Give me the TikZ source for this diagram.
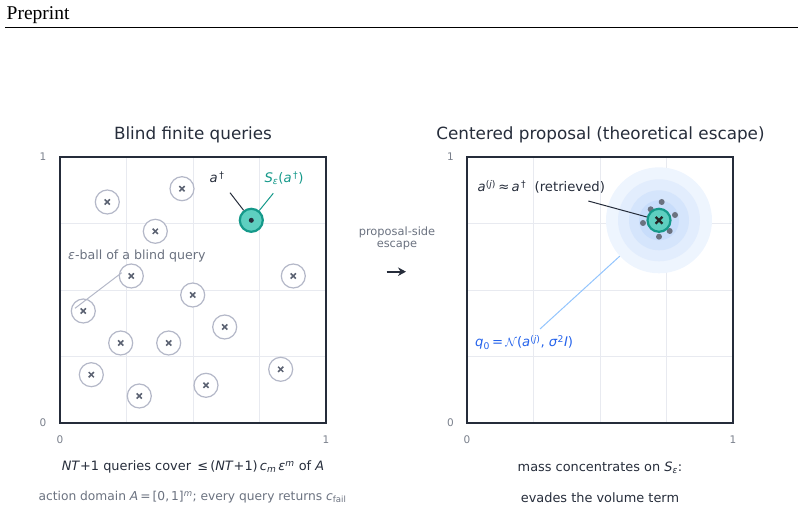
\documentclass[tikz,border=0pt]{standalone}
\usepackage{fontspec}
\setmainfont{DejaVu Sans}
\newfontfamily\timesf{Liberation Serif}
\usetikzlibrary{arrows.meta}
\definecolor{framec}{HTML}{252C3A}
\definecolor{gridc}{HTML}{E8EAF0}
\definecolor{ringc}{HTML}{B4B8C8}
\definecolor{xc}{HTML}{5B6272}
\definecolor{tealf}{HTML}{5ECFC0}
\definecolor{teald}{HTML}{15998A}
\definecolor{darkc}{HTML}{262D3B}
\definecolor{grayt}{HTML}{6B7280}
\definecolor{tickc}{HTML}{7A808C}
\definecolor{bluet}{HTML}{2563EB}
\definecolor{bluel}{HTML}{93C5FD}
\definecolor{glow1}{HTML}{EEF5FE}
\definecolor{glow2}{HTML}{E2EDFD}
\definecolor{glow3}{HTML}{D5E5FC}
\definecolor{glow4}{HTML}{C8DDFB}
\definecolor{dotc}{HTML}{6B7280}
\newcommand{\vi}[1]{\textit{#1}}
\begin{document}
\begin{tikzpicture}[x=1pt,y=-1pt,
  panelframe/.style={draw=framec, line width=2pt},
  gridl/.style={draw=gridc, line width=0.8pt},
  xm/.style={draw=xc, line width=1.5pt},
  blind/.style={circle, draw=ringc, line width=1.2pt, fill=white, minimum size=24pt, inner sep=0pt,
    path picture={
      \draw[xm] ([shift={(-2.6pt,-2.6pt)}]path picture bounding box.center) -- ([shift={(2.6pt,2.6pt)}]path picture bounding box.center);
      \draw[xm] ([shift={(-2.6pt,2.6pt)}]path picture bounding box.center) -- ([shift={(2.6pt,-2.6pt)}]path picture bounding box.center);}},
  targetc/.style={circle, draw=teald, fill=tealf, line width=2.2pt, minimum size=23pt, inner sep=0pt},
  glowring/.style={circle, inner sep=0pt, draw=none},
  gdot/.style={circle, fill=dotc, minimum size=6pt, inner sep=0pt},
  ticklab/.style={text=tickc, font=\fontsize{10.5}{12}\selectfont, inner sep=0pt},
  paneltitle/.style={text=darkc, font=\fontsize{16.8}{20}\selectfont, inner sep=0pt, anchor=base},
  lab/.style={font=\fontsize{13.2}{16}\selectfont, inner sep=0pt},
  captext/.style={text=darkc, font=\fontsize{12.9}{15}\selectfont, inner sep=0pt, anchor=base},
  capgray/.style={text=grayt, font=\fontsize{12.25}{14}\selectfont, inner sep=0pt, anchor=base},
  leader/.style={line width=1pt}
]
\useasboundingbox (0,0) rectangle (804,510);
% header
\node[anchor=base west, inner sep=0pt, font=\timesf\fontsize{19.5}{22}\selectfont] (hdr) at (6.5,20) {Preprint};
\draw[line width=0.9pt, black] (5,27.3) -- (798,27.3);

% ---------- left panel ----------
\foreach \g in {126.5,193,259.5} {\draw[gridl] (\g,157) -- (\g,423);}
\foreach \g in {223.5,290,356.5} {\draw[gridl] (60,\g) -- (326,\g);}
\node[paneltitle] (t1) at (193,139.3) {Blind finite queries};
\node[ticklab] (l1) at (43,157) {1};
\node[ticklab] (l0) at (43,423) {0};
\node[ticklab] (lx0) at (60,440) {0};
\node[ticklab] (lx1) at (326,440) {1};

\foreach \n/\x/\y in {1/107.3/202, 2/182/188.7, 3/155.3/231.3, 4/131.3/276, 5/293.3/276,
  6/83.3/311, 7/192.7/295, 8/224.7/327, 9/120.7/343, 10/168.7/343, 11/91.3/374.7,
  12/139.3/396, 13/206/385.3, 14/280.7/369.3} {
  \node[blind] (q\n) at (\x,\y) {};
}
\node[targetc] (tgt) at (251.3,220.3) {};
\node[circle, fill=darkc, minimum size=5pt, inner sep=0pt] (tdot) at (tgt) {};
\draw[panelframe] (60,157) rectangle (326,423);

\node[lab, text=darkc] (adag) at (217,177) {\vi{a}\textsuperscript{\,†}};
\coordinate (adagtip) at (230,192.7);
\draw[leader, draw=darkc] (adagtip) -- (tgt);
\node[lab, text=teald] (slab) at (284,178) {\vi{S}\textsubscript{\vi{ε}}(\vi{a}\textsuperscript{\,†})};
\coordinate (slabtip) at (273.3,193.3);
\draw[leader, draw=teald] (slabtip) -- (tgt);
\node[lab, text=grayt, anchor=west, font=\fontsize{12.6}{15}\selectfont] (eball) at (68,256) {\vi{ε}-ball of a blind query};
\coordinate (ebs) at (121.7,272.7);
\coordinate (ebe) at (75,308.3);
\draw[leader, draw=ringc] (ebs) -- (ebe);

\node[captext] (c1) at (193,471) {\vi{NT}+1 queries cover \,≤\,(\vi{NT}+1)\,\vi{c}\textsubscript{\vi{m}}\,\vi{ε}\textsuperscript{\vi{m}} of \vi{A}};
\node[capgray] (c2) at (192.5,500.5) {action domain \vi{A}\,=\,[0,\,1]\textsuperscript{\vi{m}}; every query returns \vi{c}\textsubscript{fail}};

% ---------- middle ----------
\node[text=grayt, font=\fontsize{11.4}{13}\selectfont, align=center, inner sep=0pt] (mid) at (397,238.5) {proposal-side\\[-1.5pt]escape};
\coordinate (ar1) at (386.5,271.7);
\coordinate (ar2) at (406,271.7);
\draw[-{Stealth[length=8pt,width=8.5pt]}, line width=1.8pt, draw=darkc] (ar1) -- (ar2);

% ---------- right panel ----------
\foreach \g in {533.5,600,666.5} {\draw[gridl] (\g,157) -- (\g,423);}
\foreach \g in {223.5,290,356.5} {\draw[gridl] (467,\g) -- (733,\g);}
\node[paneltitle] (t2) at (600.5,139.3) {Centered proposal (theoretical escape)};
\node[ticklab] (r1) at (450.5,157) {1};
\node[ticklab] (r0) at (450.5,423) {0};
\node[ticklab] (rx0) at (467,440) {0};
\node[ticklab] (rx1) at (733,440) {1};

\node[glowring, fill=glow1, minimum size=106pt] (glow) at (659,220.3) {};
\node[glowring, fill=glow2, minimum size=82pt] (glowb) at (659,220.3) {};
\node[glowring, fill=glow3, minimum size=60pt] (glowc) at (659,220.3) {};
\node[glowring, fill=glow4, minimum size=40pt] (glowd) at (659,220.3) {};
\node[gdot] (d1) at (661.7,202) {};
\node[gdot] (d2) at (675,215) {};
\node[gdot] (d3) at (669.7,231) {};
\node[gdot] (d4) at (659,236.7) {};
\node[gdot] (d5) at (643,223) {};
\node[gdot] (d6) at (650.7,209.3) {};
\node[targetc] (tgt2) at (659,220.3) {};
\draw[line width=2.4pt, draw=black!85] ([shift={(-3.4pt,-3.4pt)}]tgt2.center) -- ([shift={(3.4pt,3.4pt)}]tgt2.center);
\draw[line width=2.4pt, draw=black!85] ([shift={(-3.4pt,3.4pt)}]tgt2.center) -- ([shift={(3.4pt,-3.4pt)}]tgt2.center);
\draw[panelframe] (467,157) rectangle (733,423);

\node[lab, text=darkc, anchor=base west] (aj) at (477.5,192) {\vi{a}\textsuperscript{(\vi{j})}\,≈\,\vi{a}\textsuperscript{\,†}\ \ (retrieved)};
\coordinate (ajtip) at (588.3,201);
\draw[leader, draw=darkc] (ajtip) -- (tgt2);
\node[lab, text=bluet, anchor=base west] (q0) at (475,346.5) {\vi{q}\textsubscript{0}\,=\,$\mathcal{N}$(\vi{a}\textsuperscript{(\vi{j})}, \vi{σ}\textsuperscript{2}\vi{I})};
\coordinate (q0tip) at (540,329);
\draw[leader, draw=bluel] (q0tip) -- (glow);

\node[captext] (c3) at (600,471.5) {mass concentrates on \vi{S}\textsubscript{\vi{ε}}:};
\node[captext] (c4) at (600,502.5) {evades the volume term};
\end{tikzpicture}
\end{document}
